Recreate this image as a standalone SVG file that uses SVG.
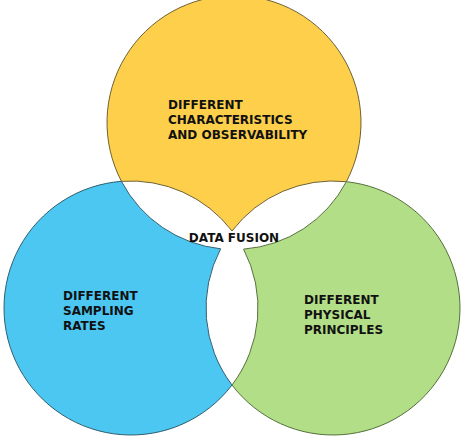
<svg xmlns="http://www.w3.org/2000/svg" width="467" height="442" viewBox="0 0 467 442">
<style>
.lbl{font-family:"DejaVu Sans","Verdana",sans-serif;font-weight:bold;font-size:12px;fill:#111111}
.yel{fill:#FDCF4A;stroke:#6E6133;stroke-width:1}
.blu{fill:#4CC7F2;stroke:#2F5F70;stroke-width:1}
.grn{fill:#B3DE88;stroke:#55703A;stroke-width:1}
</style>
<rect width="467" height="442" fill="#FFFFFF"/>
<g id="node-observability">
<path class="yel" d="M121.46,181.36 A127,127 0 1 1 346.36,181.70 A127,127 0 0 0 232,231 A127,127 0 0 0 121.46,181.36 Z"/>
<text class="lbl" x="168" y="108.5">DIFFERENT</text>
<text class="lbl" x="168" y="123.5">CHARACTERISTICS</text>
<text class="lbl" x="168" y="138.5">AND OBSERVABILITY</text>
</g>
<g id="node-sampling">
<path class="blu" d="M121.46,181.36 A127,127 0 1 0 232,385 A127,127 0 0 1 220.64,248.80 A127,127 0 0 1 121.46,181.36 Z"/>
<text class="lbl" x="63" y="299.5">DIFFERENT</text>
<text class="lbl" x="63" y="314.5">SAMPLING</text>
<text class="lbl" x="63" y="329.5">RATES</text>
</g>
<g id="node-physical">
<path class="grn" d="M346.36,181.70 A127,127 0 1 1 232,385 A127,127 0 0 0 243.54,249.14 A127,127 0 0 0 346.36,181.70 Z"/>
<text class="lbl" x="304" y="303.5">DIFFERENT</text>
<text class="lbl" x="304" y="318.5">PHYSICAL</text>
<text class="lbl" x="304" y="333.5">PRINCIPLES</text>
</g>
<g id="node-fusion">
<text class="lbl" x="234" y="241.5" text-anchor="middle">DATA FUSION</text>
</g>
<g id="connectors"></g>
</svg>
